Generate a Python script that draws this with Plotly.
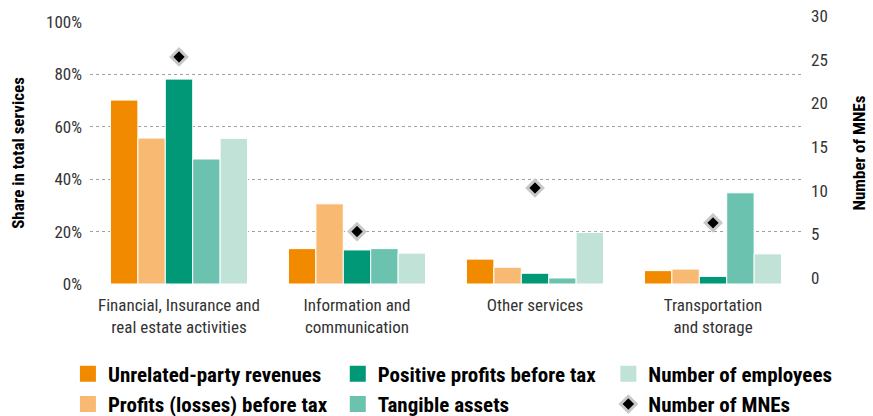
import plotly.graph_objects as go

categories = ["Financial, Insurance and<br>real estate activities",
              "Information and<br>communication",
              "Other services",
              "Transportation<br>and storage"]
unrelated_revenues = [70.2, 13.5, 9.5, 5.1]
profits_before_tax = [55.7, 30.6, 6.4, 5.7]
positive_profits = [78.2, 13.0, 4.1, 2.9]
tangible_assets = [47.7, 13.5, 2.3, 34.8]
employees = [55.6, 11.8, 19.7, 11.5]
num_mnes = [26, 6, 11, 7]

FONT = "Roboto Condensed, Liberation Sans Narrow, sans-serif"

# name, values, colour, legend column
series = [
    ("Unrelated-party revenues", unrelated_revenues, "#f28a00", "legend"),
    ("Profits (losses) before tax", profits_before_tax, "#f8ba72", "legend"),
    ("Positive profits before tax", positive_profits, "#009877", "legend2"),
    ("Tangible assets", tangible_assets, "#6bc2ae", "legend2"),
    ("Number of employees", employees, "#c1e2d7", "legend3"),
]

fig = go.Figure()
for name, vals, col, leg in series:
    fig.add_trace(go.Bar(x=categories, y=vals, name=name, marker_color=col,
                         marker_line_color="white", marker_line_width=1,
                         showlegend=False, legendgroup=name, yaxis="y"))
    fig.add_trace(go.Scatter(x=[None], y=[None], mode="markers", name=name,
                             marker=dict(symbol="square", size=16, color=col),
                             legendgroup=name, legend=leg, yaxis="y"))

fig.add_trace(go.Scatter(x=categories, y=num_mnes, name="Number of MNEs", mode="markers",
                         marker=dict(symbol="diamond", size=12, color="black",
                                     line=dict(color="#c8c8c8", width=3)),
                         legend="legend3", yaxis="y2"))

leg_common = dict(orientation="v", xanchor="left", yref="container", y=0.150, yanchor="top",
                  traceorder="normal", font=dict(size=21, color="black", weight="bold"),
                  tracegroupgap=0, itemwidth=30, bgcolor="rgba(0,0,0,0)")

fig.update_layout(
    width=873, height=416,
    margin=dict(l=90, r=71, t=22, b=132),
    paper_bgcolor="white", plot_bgcolor="white",
    font=dict(family=FONT, size=17, color="#333333"),
    barmode="group", bargap=0.23, bargroupgap=0,
    xaxis=dict(showgrid=False, showline=False, ticks="", automargin=False,
               ticklabelstandoff=9, tickfont=dict(size=17, color="#333333")),
    yaxis=dict(range=[0, 100], dtick=20, ticksuffix="%", showgrid=True, automargin=False,
               gridcolor="#a0a0a0", griddash="dot", gridwidth=1, zeroline=False,
               ticklabelstandoff=7,
               title=dict(text="<b>Share in total services</b>", font=dict(size=17, color="black"), standoff=17),
               tickfont=dict(size=17, color="#333333")),
    yaxis2=dict(range=[0, 30], dtick=5, overlaying="y", side="right", showgrid=False,
                zeroline=False, ticklabelshift=-6, automargin=False, ticklabelstandoff=8,
                title=dict(text="<b>Number of MNEs</b>", font=dict(size=17, color="black"), standoff=26),
                tickfont=dict(size=17, color="#333333")),
    legend=dict(x=-0.031, **leg_common),
    legend2=dict(x=0.348, **leg_common),
    legend3=dict(x=0.728, **leg_common),
)

fig.write_html("out.html", config={"displayModeBar": False},
               post_script="document.body.style.margin='0';")
